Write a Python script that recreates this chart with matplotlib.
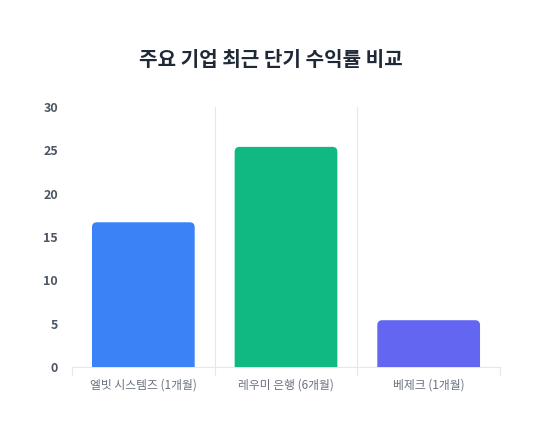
import matplotlib
matplotlib.use("Agg")
import matplotlib.pyplot as plt
from matplotlib.path import Path
from matplotlib.patches import PathPatch
from matplotlib.transforms import IdentityTransform

plt.rcParams['font.family'] = ['Noto Sans CJK KR', 'DejaVu Sans']

categories = ['엘빗 시스템즈 (1개월)', '레우미 은행 (6개월)', '베제크 (1개월)']
values = [16.7, 25.4, 5.4]
colors = ['#3B82F6', '#10B981', '#6366F1']
yticks = [0, 5, 10, 15, 20, 25, 30]
title = '주요 기업 최근 단기 수익률 비교'

fig = plt.figure(figsize=(5.41, 4.40), dpi=100)
ax = fig.add_axes([72/541, 73/440, 428/541, 260/440])

x = list(range(len(categories)))
bars = ax.bar(x, values, width=0.72, color=colors, zorder=3)
ax.set_xlim(-0.5, len(categories) - 0.5)
ax.set_ylim(0, 30)
ax.set_yticks(yticks)
ax.set_yticklabels([str(t) for t in yticks], fontsize=9, fontweight='bold', color='#4B5563')
ax.set_xticks(x)
ax.set_xticklabels(categories, fontsize=8.5, color='#6B7280')
ax.tick_params(axis='y', length=0, pad=10)
ax.tick_params(axis='x', length=0, pad=8)

# vertical grid lines at category boundaries
for b in [0.5, 1.5]:
    ax.axvline(b, color='#E5E7EB', lw=0.8, zorder=1)
# boundary tick marks
for b in [-0.5, 0.5, 1.5, 2.5]:
    ax.plot([b, b], [0, -0.9], color='#E5E7EB', lw=0.8, clip_on=False, zorder=1)

for s in ['top', 'right', 'left']:
    ax.spines[s].set_visible(False)
ax.spines['bottom'].set_color('#E5E7EB')
ax.spines['bottom'].set_linewidth(0.8)

fig.canvas.draw()
# rounded top corners
r = 5
for bar in bars:
    bb = bar.get_window_extent()
    x0, y0, x1, y1 = bb.x0, bb.y0, bb.x1, bb.y1
    verts = [(x0, y0), (x0, y1 - r), (x0, y1), (x0 + r, y1),
             (x1 - r, y1), (x1, y1), (x1, y1 - r), (x1, y0), (x0, y0)]
    codes = [Path.MOVETO, Path.LINETO, Path.CURVE3, Path.CURVE3,
             Path.LINETO, Path.CURVE3, Path.CURVE3, Path.LINETO, Path.CLOSEPOLY]
    p = PathPatch(Path(verts, codes), facecolor=bar.get_facecolor(), edgecolor='none',
                  transform=IdentityTransform(), zorder=3)
    ax.add_artist(p)
    bar.set_visible(False)

fig.text(271/541, 1 - 60/440, title, ha='center', va='center', fontsize=14.5,
         fontweight='bold', color='#1F2937')

fig.savefig('out.png', dpi=100)
